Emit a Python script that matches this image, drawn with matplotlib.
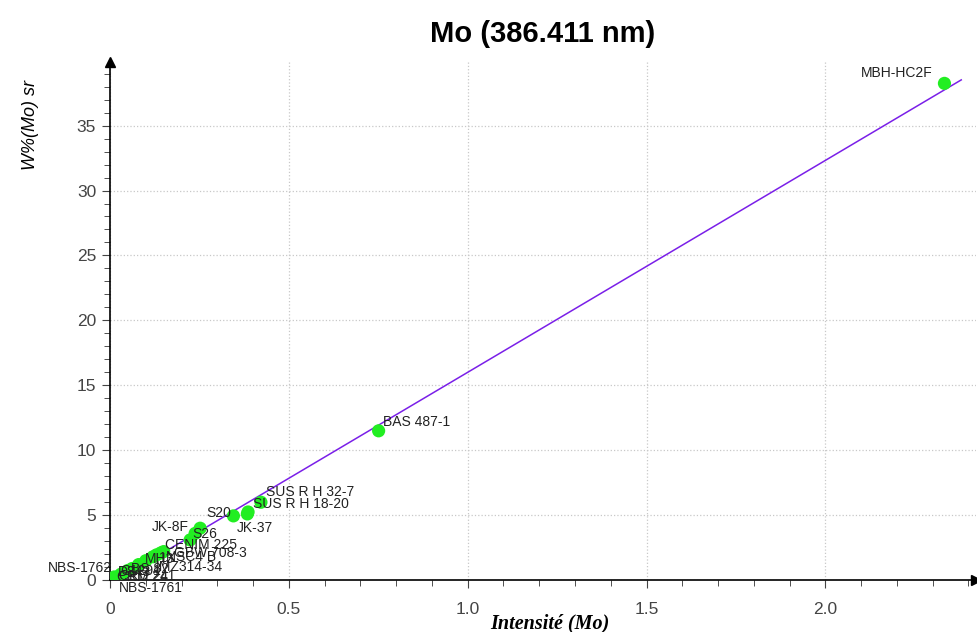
import numpy as np
import matplotlib.pyplot as plt
from matplotlib.ticker import MultipleLocator, FuncFormatter

plt.rcParams['font.family'] = ['Liberation Sans', 'DejaVu Sans']

# samples: intensity vs certified Mo content
names = ["MBH-HC2F", "BAS 487-1", "SUS R H 32-7", "SUS R H 18-20", "JK-37", "S20",
         "JK-8F", "S26", "CENIM 225", "NSC4 B", "GBW 708-3", "MH3", "1X",
         "IMZ314-34", "BS 82", "C1291", "D843", "CKD 241", "CRM 24",
         "NBS-1762", "NBS-1761"]
intensity = [2.333, 0.751, 0.422, 0.386, 0.384, 0.345,
             0.252, 0.238, 0.224, 0.142, 0.150, 0.120, 0.130,
             0.100, 0.080, 0.062, 0.050, 0.040, 0.030,
             0.012, 0.004]
w_mo = [38.25, 11.5, 6.0, 5.25, 5.1, 4.95,
        4.0, 3.6, 3.1, 2.1, 2.2, 1.8, 1.95,
        1.5, 1.2, 0.9, 0.75, 0.6, 0.45,
        0.25, 0.05]

# label offsets in pixels (dx, dy, ha)
offsets = [(-12, 10, "right"), (4, 9, "left"), (5, 10, "left"), (5, 8, "left"),
           (-11, -14, "left"), (-27, 3, "left"),
           (-48, 1, "left"), (-3, -1, "left"), (-25, -5, "left"), (5, -4, "left"),
           (10, -1, "left"), (-8, -2, "left"), (2, -3, "left"),
           (10, -6, "left"), (-8, -4, "left"), (-12, -3, "left"), (-10, -2, "left"),
           (-5, -4, "left"), (-4, -3, "left"),
           (-2, 9, "right"), (7, -8, "left")]

fig = plt.figure(figsize=(9.78, 6.32), dpi=100)
ax = fig.add_axes([0.1125, 0.082, 0.885, 0.82])

slope, icpt = np.polyfit(intensity, w_mo, 1)
xl = np.array([0, 2.38])
ax.plot(xl, slope * xl + icpt, color="#7a1fe8", lw=1.1, zorder=2)
ax.scatter(intensity, w_mo, s=90, color="#22ee22", zorder=3, edgecolors="none")

for n, x, y, (dx, dy, ha) in zip(names, intensity, w_mo, offsets):
    ax.annotate(n, (x, y), xytext=(dx, dy), textcoords="offset pixels",
                ha=ha, va="center", fontsize=10, color="#222222", zorder=4)

ax.set_xlim(0, 2.42)
ax.set_ylim(0, 39.9)
ax.xaxis.set_major_locator(MultipleLocator(0.5))
ax.xaxis.set_minor_locator(MultipleLocator(0.1))
ax.yaxis.set_major_locator(MultipleLocator(5))
ax.yaxis.set_minor_locator(MultipleLocator(1))
ax.xaxis.set_major_formatter(FuncFormatter(lambda v, p: "0" if v == 0 else f"{v:.1f}"))
ax.tick_params(which="major", direction="out", length=6, labelsize=12.5, colors="#444444")
ax.tick_params(axis="x", which="major", pad=10)
ax.tick_params(axis="y", which="major", pad=4)
ax.tick_params(which="minor", direction="out", length=4, color="#333333")
ax.grid(True, which="major", ls=":", color="#c8c8c8", lw=0.9)

for s in ["top", "right"]:
    ax.spines[s].set_visible(False)
for s in ["left", "bottom"]:
    ax.spines[s].set_linewidth(1.2)
ax.plot(1, 0, ">k", transform=ax.transAxes, clip_on=False, ms=7)
ax.plot(0, 1, "^k", transform=ax.transAxes, clip_on=False, ms=7)

ax.set_title("Mo (386.411 nm)", fontsize=21, fontweight="bold", pad=14)
ax.set_xlabel("Intensité (Mo)", fontsize=14.5, fontweight="bold", style="italic",
              family="Liberation Serif")
ax.xaxis.set_label_coords(0.508, -0.064)
ax.set_ylabel("W%(Mo) sr", fontsize=13, style="italic")
ax.yaxis.set_label_coords(-0.082, 0.878)

fig.savefig("out.png", dpi=100)
